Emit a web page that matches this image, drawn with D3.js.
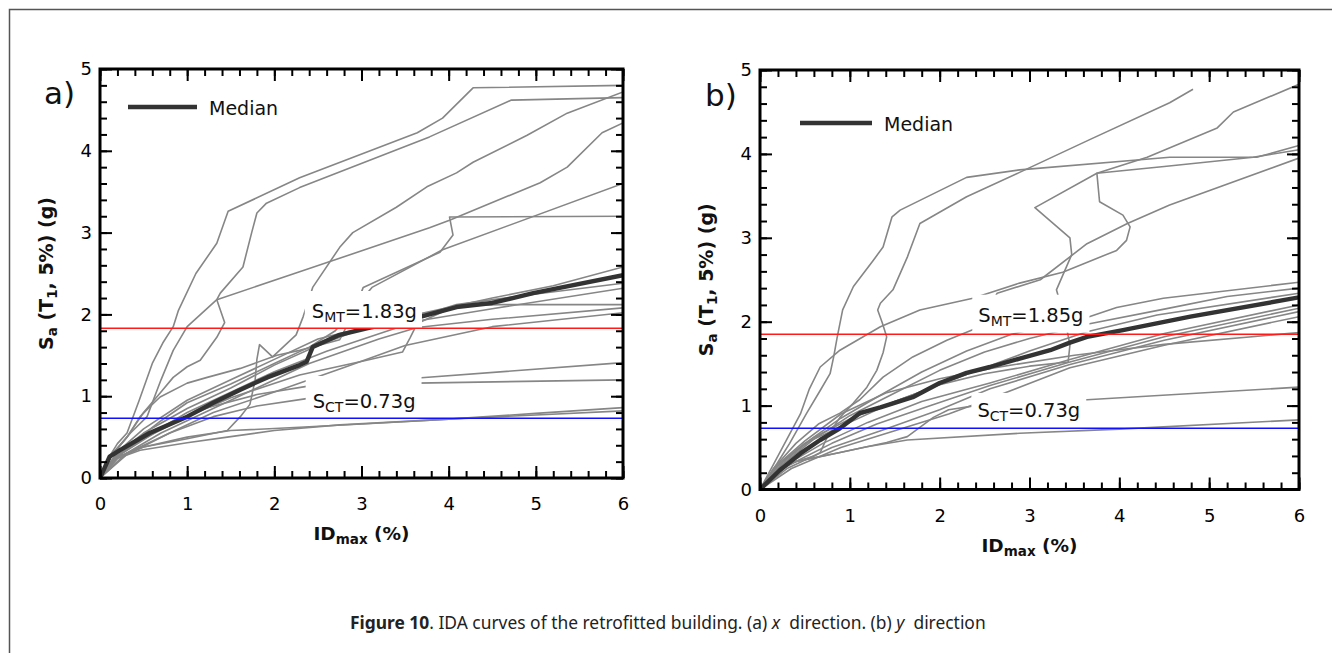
<!DOCTYPE html>
<html><head><meta charset="utf-8">
<script src="https://cdn.jsdelivr.net/npm/d3@7"></script>
<style>body{margin:0;background:#fff}svg{display:block}</style>
</head><body>
<svg id="c" width="1332" height="653"></svg>
<script>
// ---------------- DATA ----------------
const xTickLabels = [0,1,2,3,4,5,6];
const yTickLabels = [0,1,2,3,4,5];
const limitsA = {SMT: 1.83, SCT: 0.73};
const limitsB = {SMT: 1.85, SCT: 0.73};

// Panel (a) x direction — IDA curves [IDmax %, Sa g]
const a01 = [[0,0],[0.1,0.25],[0.2,0.42],[0.31,0.55],[0.45,0.95],[0.6,1.4],[0.72,1.65],[0.84,1.85],[0.9,2.05],[1.1,2.5],[1.34,2.87],[1.47,3.26],[2.29,3.67],[3.64,4.22],[3.93,4.4],[4.28,4.77],[6,4.8]];
const a02 = [[0,0],[0.12,0.25],[0.31,0.5],[0.5,0.8],[0.69,1.04],[0.84,1.23],[1.0,1.36],[1.15,1.44],[1.34,1.72],[1.43,1.9],[1.34,2.18],[1.38,2.26],[1.64,2.58],[1.74,3.0],[1.8,3.24],[1.91,3.36],[2.29,3.55],[3.78,4.17],[4.72,4.62],[6,4.65]];
const a03 = [[0,0],[0.15,0.3],[0.35,0.55],[0.54,0.75],[0.7,1.2],[0.84,1.56],[1.0,1.85],[1.34,2.18],[2.29,2.52],[3.78,3.06],[4.01,3.15],[5.05,3.61],[5.36,3.8],[5.76,4.22],[6,4.34]];
const a04 = [[0,0],[0.15,0.24],[0.5,0.38],[1.0,0.48],[1.46,0.58],[1.61,0.75],[1.72,0.9],[1.78,1.2],[1.8,1.45],[1.83,1.63],[1.98,1.48],[2.25,1.75],[2.33,1.97],[2.44,2.33],[2.75,2.82],[2.9,3.0],[3.4,3.31],[3.75,3.56],[4.09,3.73],[4.28,3.86],[4.9,4.19],[5.36,4.46],[6,4.72]];
const a05 = [[0,0],[0.1,0.25],[0.31,0.5],[0.46,0.75],[0.57,0.87],[0.69,0.99],[1.0,1.16],[1.23,1.23],[1.61,1.34],[2.03,1.5],[2.29,1.56],[2.75,1.69],[2.9,2.0],[3.02,2.33],[3.9,2.76],[4.05,2.97],[4.01,3.19],[6,3.2]];
const a06 = [[0,0],[0.15,0.22],[0.4,0.45],[0.7,0.7],[1.0,0.92],[1.5,1.15],[2.0,1.4],[2.4,1.6],[2.7,1.8],[3.12,2.33],[3.93,2.79],[6,3.6]];
const a07 = [[0,0],[0.2,0.28],[0.5,0.48],[1,0.75],[1.5,0.98],[2.29,1.26],[3.06,1.44],[3.47,1.54],[3.56,1.72],[3.64,1.89],[4.09,2.11],[4.6,2.12],[6,2.12]];
const a08 = [[0,0],[0.2,0.3],[0.5,0.55],[1.0,0.85],[1.5,1.1],[2.0,1.38],[2.5,1.62],[3.0,1.82],[3.64,1.97],[4.09,2.12],[5,2.25],[6,2.38]];
const a09 = [[0,0],[0.2,0.32],[0.5,0.6],[1.0,0.95],[1.5,1.2],[2.0,1.45],[2.5,1.7],[3.64,2.0],[4.5,2.2],[5.2,2.35],[6,2.58]];
const a10 = [[0,0],[0.25,0.3],[0.6,0.55],[1.0,0.8],[1.5,1.05],[2.0,1.3],[2.6,1.55],[3.64,1.92],[4.5,2.07],[6,2.32]];
const a11 = [[0,0],[0.3,0.3],[0.7,0.55],[1.2,0.8],[1.8,1.1],[2.4,1.4],[3.2,1.7],[3.64,1.84],[4.5,1.94],[6,2.08]];
const a12 = [[0,0],[0.3,0.28],[0.8,0.55],[1.3,0.8],[2.0,1.05],[2.8,1.35],[3.5,1.62],[4.5,1.85],[6,2.02]];
const a13 = [[0,0],[0.25,0.3],[0.7,0.6],[1.2,0.85],[1.8,1.02],[2.37,1.12],[3.0,1.18],[3.61,1.22],[6,1.41]];
const a14 = [[0,0],[0.3,0.3],[0.8,0.55],[1.3,0.75],[1.8,0.88],[2.37,0.97],[3.0,1.08],[3.63,1.16],[6,1.2]];
const a15 = [[0,0],[0.15,0.22],[0.46,0.34],[1.0,0.43],[1.46,0.5],[2.0,0.58],[2.75,0.65],[4,0.72],[5,0.77],[6,0.82]];
const a16 = [[0,0],[0.2,0.25],[0.5,0.38],[1.0,0.5],[1.5,0.58],[2.29,0.62],[3.0,0.66],[4,0.72],[5,0.79],[6,0.86]];
const medianA = [[0,0],[0.11,0.26],[0.23,0.34],[0.57,0.55],[1.0,0.75],[1.3,0.92],[1.61,1.08],[1.92,1.23],[2.29,1.38],[2.37,1.42],[2.44,1.6],[2.75,1.75],[3.06,1.83],[3.64,1.96],[4.09,2.09],[4.5,2.14],[4.97,2.26],[6,2.48]];

// Panel (b) y direction
const b01 = [[0,0],[0.19,0.31],[0.33,0.55],[0.52,0.91],[0.67,1.18],[0.78,1.38],[0.82,1.58],[0.86,1.82],[0.92,2.14],[1.04,2.42],[1.26,2.73],[1.37,2.89],[1.47,3.25],[1.56,3.33],[2.3,3.72],[2.89,3.81],[4.56,3.96],[5.53,3.96],[6,4.1]];
const b02 = [[0,0],[0.15,0.2],[0.4,0.33],[0.6,0.4],[0.67,0.44],[0.75,0.63],[0.89,0.86],[1.04,1.03],[1.19,1.22],[1.3,1.42],[1.37,1.63],[1.41,1.82],[1.36,1.99],[1.31,2.14],[1.34,2.22],[1.48,2.38],[1.64,2.77],[1.78,3.17],[2.3,3.49],[2.89,3.78],[3.67,4.17],[4.56,4.61],[4.82,4.77]];
const b03 = [[0,0],[0.2,0.3],[0.5,0.55],[1.0,0.8],[1.5,1.05],[2.0,1.25],[2.5,1.38],[3.0,1.47],[3.43,1.52],[3.45,1.72],[3.4,2.0],[3.3,2.38],[3.47,2.8],[3.45,3.0],[3.06,3.36],[3.75,3.77],[4.31,3.96],[5.09,4.31],[5.27,4.5],[6,4.83]];
const b04 = [[0,0],[0.15,0.25],[0.4,0.55],[0.65,0.78],[0.89,0.91],[1.11,1.07],[1.37,1.34],[1.7,1.58],[2.08,1.78],[2.45,1.94],[2.64,2.34],[3.12,2.5],[3.64,2.93],[4.09,3.17],[4.56,3.39],[6,3.95]];
const b05 = [[0,0],[0.15,0.3],[0.3,0.6],[0.45,0.9],[0.55,1.2],[0.67,1.46],[0.89,1.66],[1.34,1.94],[1.78,2.14],[2.37,2.28],[2.89,2.46],[3.37,2.59],[3.97,2.85],[4.08,2.97],[4.12,3.13],[4.04,3.27],[3.78,3.43],[3.75,3.77],[4.5,3.85],[5.49,3.96],[6,4.05]];
const b06 = [[0,0],[0.2,0.28],[0.5,0.55],[0.9,0.85],[1.3,1.1],[1.8,1.4],[2.3,1.65],[2.8,1.85],[3.3,1.98],[3.64,2.05],[3.97,2.17],[4.49,2.28],[6,2.47]];
const b07 = [[0,0],[0.25,0.3],[0.6,0.6],[1.0,0.88],[1.5,1.15],[2.0,1.42],[2.5,1.64],[3.0,1.8],[3.64,1.97],[4.5,2.15],[5.2,2.3],[6,2.4]];
const b08 = [[0,0],[0.25,0.32],[0.6,0.62],[1.0,0.84],[1.5,1.05],[2.0,1.25],[2.5,1.45],[3.0,1.65],[3.64,1.88],[4.42,2.08],[6,2.34]];
const b09 = [[0,0],[0.3,0.3],[0.7,0.55],[1.2,0.8],[1.8,1.05],[2.56,1.27],[3.45,1.55],[4.5,1.86],[6,2.2]];
const b10 = [[0,0],[0.3,0.28],[0.8,0.55],[1.3,0.78],[1.9,1.0],[2.56,1.24],[3.45,1.52],[4.5,1.82],[6,2.16]];
const b11 = [[0,0],[0.3,0.25],[0.8,0.5],[1.4,0.72],[2.0,0.95],[2.56,1.2],[3.45,1.49],[4.5,1.78],[6,2.12]];
const b12 = [[0,0],[0.35,0.25],[0.9,0.5],[1.5,0.7],[2.1,0.9],[2.6,1.1],[3.45,1.45],[4.5,1.72],[6,2.06]];
const b13 = [[0,0],[0.2,0.3],[0.5,0.58],[0.9,0.9],[1.4,1.15],[2.0,1.32],[2.6,1.45],[3.5,1.6],[4.5,1.73],[6,1.87]];
const b14 = [[0,0],[0.33,0.32],[0.89,0.44],[1.41,0.56],[1.64,0.63],[1.93,0.86],[2.1,0.95],[2.4,1.0],[3.0,1.04],[3.64,1.07],[6,1.22]];
const b15 = [[0,0],[0.1,0.15],[0.33,0.32],[0.67,0.39],[1.19,0.51],[1.64,0.59],[2.89,0.67],[4,0.72],[6,0.83]];
const medianB = [[0,0],[0.22,0.23],[0.45,0.43],[0.67,0.59],[0.89,0.73],[1.11,0.91],[1.34,0.98],[1.7,1.1],[2.0,1.27],[2.3,1.39],[2.56,1.46],[2.89,1.56],[3.23,1.66],[3.45,1.75],[3.64,1.82],[4.04,1.9],[4.79,2.06],[6,2.29]];

const curvesA = [a01,a02,a03,a04,a05,a06,a07,a08,a09,a10,a11,a12,a13,a14,a15,a16];
const curvesB = [b01,b02,b03,b04,b05,b06,b07,b08,b09,b10,b11,b12,b13,b14,b15];

// ---------------- DRAW ----------------
const svg = d3.select('#c');
svg.append('rect').attr('width',1332).attr('height',653).attr('fill','#fff');
svg.append('path').attr('d','M9.5,653 V9.5 H1332').attr('fill','none').attr('stroke','#555').attr('stroke-width',1.5);

const FONT = "'DejaVu Sans', Verdana, sans-serif";

function drawPanel(cfg){
  const x = d3.scaleLinear().domain([0,6]).range([cfg.l,cfg.r]);
  const y = d3.scaleLinear().domain([0,5]).range([cfg.b,cfg.t]);
  const g = svg.append('g');
  const clipId = 'clip'+cfg.id;
  svg.append('defs').append('clipPath').attr('id',clipId).append('rect')
    .attr('x',cfg.l).attr('y',cfg.t).attr('width',cfg.r-cfg.l).attr('height',cfg.b-cfg.t);
  const line = d3.line().x(d=>x(d[0])).y(d=>y(d[1]));
  const cg = g.append('g').attr('clip-path',`url(#${clipId})`);
  cfg.curves.forEach(c=>cg.append('path').attr('d',line(c)).attr('fill','none')
    .attr('stroke','#868686').attr('stroke-width',1.6).attr('stroke-linejoin','round'));
  cg.append('path').attr('d',line(cfg.median)).attr('fill','none')
    .attr('stroke','#333').attr('stroke-width',4.4).attr('stroke-linejoin','round');

  const boxG = g.append('g');
  const refG = g.append('g');
  const labG = g.append('g');
  refG.append('line').attr('x1',x(0)).attr('x2',x(6)).attr('y1',y(cfg.smt)).attr('y2',y(cfg.smt))
    .attr('stroke','#ff1a1a').attr('stroke-width',1.6);
  refG.append('line').attr('x1',x(0)).attr('x2',x(6)).attr('y1',y(cfg.sct)).attr('y2',y(cfg.sct))
    .attr('stroke','#1010ff').attr('stroke-width',1.6);

  function label(px,py,sub,val,pad){
    const t = labG.append('text').attr('x',x(px)).attr('y',y(py))
      .attr('font-family',FONT).attr('font-size',19.5).attr('fill','#111');
    t.append('tspan').text('S');
    t.append('tspan').attr('font-size',14).attr('dy',4).text(sub);
    t.append('tspan').attr('dy',-4).text('='+val+'g');
    const bb = t.node().getBBox();
    boxG.append('rect').attr('x',bb.x-pad[0]).attr('y',bb.y-pad[1])
      .attr('width',bb.width+pad[0]+pad[2]).attr('height',bb.height+pad[1]+pad[3]).attr('fill','#fff');
  }
  label(cfg.smtLab[0],cfg.smtLab[1],'MT',cfg.smt.toFixed(2),cfg.smtPad);
  label(cfg.sctLab[0],cfg.sctLab[1],'CT',cfg.sct.toFixed(2),cfg.sctPad);

  const minorX = d3.range(0,6.001,0.2).map(v=>+v.toFixed(1));
  const minorY = d3.range(0,5.001,0.2).map(v=>+v.toFixed(1));
  function styleAx(sel){
    sel.select('.domain').remove();
    sel.selectAll('line').attr('stroke','#000').attr('stroke-width',2);
    sel.selectAll('text').attr('font-family',FONT).attr('font-size',18).attr('fill','#000');
  }
  const axes = g.append('g');
  axes.append('g').attr('transform',`translate(0,${cfg.b})`)
    .call(d3.axisBottom(x).tickValues(minorX).tickSizeInner(-7).tickSizeOuter(0).tickFormat('')).call(styleAx);
  axes.append('g').attr('transform',`translate(0,${cfg.b})`)
    .call(d3.axisBottom(x).tickValues(xTickLabels).tickSizeInner(-12).tickSizeOuter(0).tickPadding(cfg.xPad).tickFormat(d3.format('d'))).call(styleAx);
  axes.append('g').attr('transform',`translate(0,${cfg.t})`)
    .call(d3.axisTop(x).tickValues(minorX).tickSizeInner(-7).tickSizeOuter(0).tickFormat('')).call(styleAx);
  axes.append('g').attr('transform',`translate(0,${cfg.t})`)
    .call(d3.axisTop(x).tickValues(xTickLabels).tickSizeInner(-12).tickSizeOuter(0).tickFormat('')).call(styleAx);
  axes.append('g').attr('transform',`translate(${cfg.l},0)`)
    .call(d3.axisLeft(y).tickValues(minorY).tickSizeInner(-7).tickSizeOuter(0).tickFormat('')).call(styleAx);
  axes.append('g').attr('transform',`translate(${cfg.l},0)`)
    .call(d3.axisLeft(y).tickValues(yTickLabels).tickSizeInner(-12).tickSizeOuter(0).tickPadding(8).tickFormat(d3.format('d'))).call(styleAx);
  axes.append('g').attr('transform',`translate(${cfg.r},0)`)
    .call(d3.axisRight(y).tickValues(minorY).tickSizeInner(-7).tickSizeOuter(0).tickFormat('')).call(styleAx);
  axes.append('g').attr('transform',`translate(${cfg.r},0)`)
    .call(d3.axisRight(y).tickValues(yTickLabels).tickSizeInner(-12).tickSizeOuter(0).tickFormat('')).call(styleAx);
  g.append('rect').attr('x',cfg.l).attr('y',cfg.t).attr('width',cfg.r-cfg.l).attr('height',cfg.b-cfg.t)
    .attr('fill','none').attr('stroke','#000').attr('stroke-width',3);

  const xt = g.append('text').attr('x',(cfg.l+cfg.r)/2).attr('y',cfg.xTitleY).attr('text-anchor','middle')
    .attr('font-family',FONT).attr('font-weight','bold').attr('font-size',18.5).attr('fill','#111');
  xt.append('tspan').text('ID');
  xt.append('tspan').attr('font-size',13.5).attr('dy',4).text('max');
  xt.append('tspan').attr('dy',-4).text(' (%)');
  const yt = g.append('text').attr('transform',`translate(${cfg.yTitleX},${(cfg.t+cfg.b)/2}) rotate(-90)`)
    .attr('text-anchor','middle').attr('font-family',FONT).attr('font-weight','bold').attr('font-size',19).attr('fill','#111');
  yt.append('tspan').text('S');
  yt.append('tspan').attr('font-size',13.5).attr('dy',4).text('a');
  yt.append('tspan').attr('dy',-4).text(' (T');
  yt.append('tspan').attr('font-size',13.5).attr('dy',4).text('1');
  yt.append('tspan').attr('dy',-4).text(', 5%) (g)');

  g.append('text').attr('x',cfg.letter[0]).attr('y',cfg.letter[1]).attr('font-family',FONT)
    .attr('font-size',31).attr('fill','#111').text(cfg.id+')');
  g.append('line').attr('x1',cfg.leg[0]).attr('x2',cfg.leg[1]).attr('y1',cfg.leg[2]).attr('y2',cfg.leg[2])
    .attr('stroke','#333').attr('stroke-width',4.4);
  g.append('text').attr('x',cfg.leg[1]+12).attr('y',cfg.leg[2]+8).attr('font-family',FONT)
    .attr('font-size',19).attr('fill','#111').text('Median');
}

drawPanel({id:'a', l:100, r:623, t:69, b:478, curves:curvesA, median:medianA,
  smt:limitsA.SMT, sct:limitsA.SCT, smtLab:[2.43,1.956], sctLab:[2.44,0.856],
  smtPad:[7,9,5,4], sctPad:[7,14,6,3], xPad:19, xTitleY:540, yTitleX:53,
  letter:[44,104], leg:[128,197,107]});
drawPanel({id:'b', l:760, r:1299, t:70, b:489.5, curves:curvesB, median:medianB,
  smt:limitsB.SMT, sct:limitsB.SCT, smtLab:[2.43,2.0], sctLab:[2.42,0.865],
  smtPad:[6,9,6,4], sctPad:[6,6,6,4], xPad:20, xTitleY:552, yTitleX:713,
  letter:[705,106], leg:[800,872,123]});

// caption
const cap = svg.append('text').attr('x',350).attr('y',629).attr('font-family',"'Noto Sans', 'Open Sans', sans-serif")
  .attr('font-size',17.4).attr('fill','#222').attr('xml:space','preserve');
cap.append('tspan').attr('font-weight','bold').text('Figure 10');
cap.append('tspan').text('. IDA curves of the retrofitted building. (a) ');
cap.append('tspan').attr('font-style','italic').text('x');
cap.append('tspan').text('  direction. (b) ');
cap.append('tspan').attr('font-style','italic').text('y');
cap.append('tspan').text('  direction');
</script>
</body></html>
